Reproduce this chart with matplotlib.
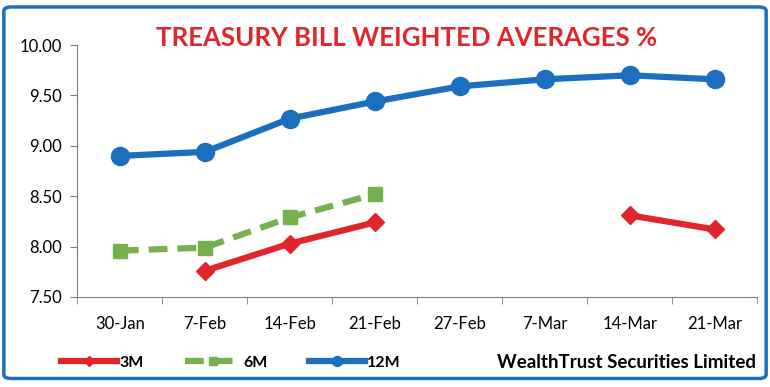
import matplotlib.pyplot as plt
from matplotlib.patches import FancyBboxPatch
import numpy as np

dates = ["30-Jan", "7-Feb", "14-Feb", "21-Feb", "27-Feb", "7-Mar", "14-Mar", "21-Mar"]
m3 = [np.nan, 7.76, 8.03, 8.24, np.nan, np.nan, 8.31, 8.17]
m6 = [7.96, 7.99, 8.29, 8.52, np.nan, np.nan, np.nan, np.nan]
m12 = [8.90, 8.94, 9.27, 9.44, 9.59, 9.66, 9.70, 9.66]

plt.rcParams['font.family'] = ['Lato', 'DejaVu Sans']

fig = plt.figure(figsize=(7.70, 3.87), dpi=100)
ax = fig.add_axes([0.1006, 0.2326, 0.883, 0.651])

x = np.arange(len(dates))
red = "#e2252b"
green = "#77b04f"
blue = "#1c6fbe"

ax.plot(x, m12, color=blue, lw=4.5, marker="o", ms=13, label="12M", zorder=3)
ax.plot(x, m6, color=green, lw=4.5, ls=(0, (3, 1.6)), marker="s", ms=10, label="6M", zorder=3)
ax.plot(x, m3, color=red, lw=4.5, marker="D", ms=9, label="3M", zorder=3)

ax.set_xlim(-0.5, 7.5)
ax.set_ylim(7.5, 10.0)
ax.set_yticks(np.arange(7.5, 10.01, 0.5))
ax.set_yticklabels(["%.2f" % v for v in np.arange(7.5, 10.01, 0.5)], fontsize=12)
ax.set_xticks(x)
ax.set_xticklabels(dates, fontsize=12)
ax.set_xticks(np.arange(-0.5, 8, 1), minor=True)
ax.tick_params(axis="x", which="major", length=0, pad=14)
ax.tick_params(axis="x", which="minor", length=5, color="#7f7f7f")
ax.tick_params(axis="y", length=5, color="#7f7f7f", pad=6)
for s in ["top", "right"]:
    ax.spines[s].set_visible(False)
for s in ["left", "bottom"]:
    ax.spines[s].set_color("#7f7f7f")

fig.text(0.528, 0.902, "TREASURY BILL WEIGHTED AVERAGES %", color=red,
         fontsize=18.5, fontweight="bold", ha="center", va="center")
fig.text(0.982, 0.063, "WealthTrust Securities Limited", fontsize=13.5,
         fontweight="bold", ha="right", va="center")

h, l = ax.get_legend_handles_labels()
order = [2, 1, 0]
fig.legend([h[i] for i in order], [l[i] for i in order], loc="center left",
           bbox_to_anchor=(0.079, 0.063), ncol=3, frameon=False,
           borderpad=0, borderaxespad=0,
           prop={"size": 11.5, "weight": "bold"}, handlelength=3.5,
           handletextpad=0.15, columnspacing=2.6, markerscale=0.55)

border = FancyBboxPatch((0.005, 0.022), 0.99, 0.96, boxstyle="round,pad=0,rounding_size=0.01",
                        transform=fig.transFigure, fill=False, ec=blue, lw=2.5)
fig.patches.append(border)

fig.savefig("out.png", dpi=100)
